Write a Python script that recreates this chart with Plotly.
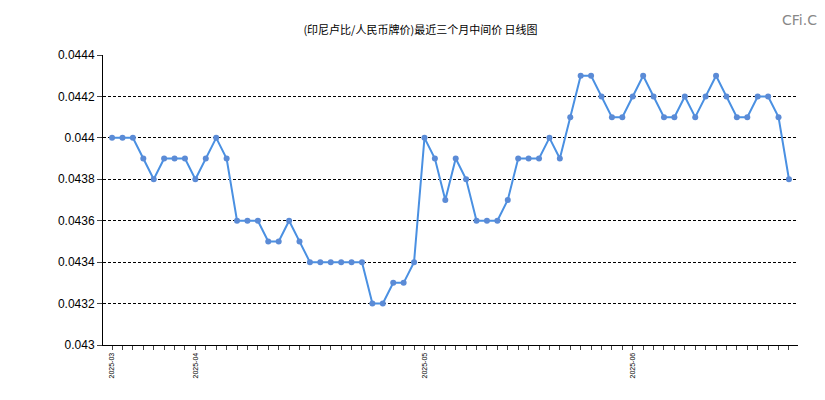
import plotly.graph_objects as go

values = [0.0440,0.0440,0.0440,0.0439,0.0438,0.0439,0.0439,0.0439,0.0438,0.0439,
          0.0440,0.0439,0.0436,0.0436,0.0436,0.0435,0.0435,0.0436,0.0435,0.0434,
          0.0434,0.0434,0.0434,0.0434,0.0434,0.0432,0.0432,0.0433,0.0433,0.0434,
          0.0440,0.0439,0.0437,0.0439,0.0438,0.0436,0.0436,0.0436,0.0437,0.0439,
          0.0439,0.0439,0.0440,0.0439,0.0441,0.0443,0.0443,0.0442,0.0441,0.0441,
          0.0442,0.0443,0.0442,0.0441,0.0441,0.0442,0.0441,0.0442,0.0443,0.0442,
          0.0441,0.0441,0.0442,0.0442,0.0441,0.0438]
month_labels = {0: "2025-03", 8: "2025-04", 30: "2025-05", 50: "2025-06"}
y_ticks = [0.043,0.0432,0.0434,0.0436,0.0438,0.044,0.0442,0.0444]
title = "(印尼卢比/人民币牌价)最近三个月中间价 日线图"

x = list(range(len(values)))
fig = go.Figure(go.Scatter(x=x, y=values, mode="lines+markers",
    line=dict(color="#4a90e2", width=2), marker=dict(color="#5b8bd6", size=6)))
fig.update_layout(
    width=825, height=400, plot_bgcolor="white", paper_bgcolor="white",
    margin=dict(l=95, r=35, t=47, b=63, autoexpand=False), showlegend=False,
    title=dict(text=title, x=0.5, y=0.955, xanchor="center", font=dict(size=11, color="#000", family="Noto Sans CJK SC")),
    font=dict(family="Arial, Liberation Sans", color="#000"),
)
fig.update_xaxes(range=[-0.87, len(values)-1+0.87], tickvals=x,
    ticktext=[month_labels.get(i, "") for i in x], tickangle=-90,
    tickfont=dict(size=7), ticks="outside", ticklen=4, showgrid=False,
    showline=True, linecolor="#000", zeroline=False, automargin=False)
fig.update_yaxes(range=[0.043, 0.0444], tickvals=y_ticks,
    ticktext=[f"{v:g}" for v in y_ticks], tickfont=dict(size=12),
    ticks="outside", ticklen=5, showline=True, linecolor="#000",
    gridcolor="#000", griddash="3px,2px", gridwidth=1, zeroline=False, automargin=False)
fig.add_annotation(text="CFi.CN", xref="paper", yref="paper", x=1.045, y=1.155,
    xanchor="right", yanchor="top", showarrow=False, font=dict(size=14, color="#888", family="Arial Black, DejaVu Sans"))
fig.write_html("out.html")
